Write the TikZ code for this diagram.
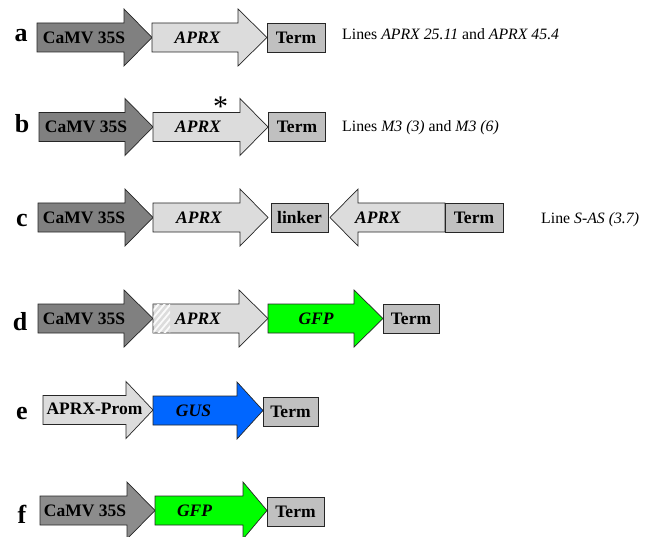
\documentclass[tikz,border=0pt]{standalone}
\usepackage{fontspec}
\setmainfont{Liberation Serif}

\definecolor{camvgray}{RGB}{128,128,128}
\definecolor{camvlight}{RGB}{140,140,140}
\definecolor{genegray}{RGB}{220,220,220}
\definecolor{termgray}{RGB}{192,192,192}
\definecolor{gfpgreen}{RGB}{0,255,0}
\definecolor{gusblue}{RGB}{0,102,255}

% forward gene: fill, start, head base, tip, row
\newcommand{\fwdgene}[5]{%
  \filldraw[gene, fill=#1] (#2,#5-14.5) -- (#3,#5-14.5) -- (#3,#5-28.5) -- (#4,#5)
    -- (#3,#5+28.5) -- (#3,#5+14.5) -- (#2,#5+14.5) -- cycle;}
% reverse gene: fill, tip, head base, end, row
\newcommand{\revgene}[5]{%
  \filldraw[gene, fill=#1] (#2,#5) -- (#3,#5-28.5) -- (#3,#5-14.5) -- (#4,#5-14.5)
    -- (#4,#5+14.5) -- (#3,#5+14.5) -- (#3,#5+28.5) -- cycle;}

\begin{document}
\begin{tikzpicture}[x=1pt, y=-1pt,
    gene/.style = {draw=black!85, line width=0.7pt},
    gtext/.style = {inner sep=0, font=\fontsize{17.5}{18}\selectfont\bfseries},
    gital/.style = {inner sep=0, font=\fontsize{17.5}{18}\selectfont\bfseries\itshape},
    box/.style = {draw=black!85, line width=0.7pt, fill=termgray, inner sep=0,
      minimum height=29, font=\fontsize{17.5}{18}\selectfont\bfseries},
    lbl/.style = {anchor=base, inner sep=0, font=\fontsize{26}{26}\selectfont\bfseries},
    note/.style = {anchor=base west, inner sep=0, font=\fontsize{15.8}{16}\selectfont}]
  \useasboundingbox (0,0) rectangle (652,537);

  % a
  \node[lbl] (a) at (21,42) {a};
  \fwdgene{camvgray}{37}{124}{152}{37.5}
  \fwdgene{genegray}{152}{238}{267}{37.5}
  \node[gtext] (a-camv) at (84,37.5) {CaMV 35S};
  \node[gital] (a-aprx) at (197.5,37.5) {APRX};
  \node[box, minimum width=58] (a-term) at (296,37.5) {Term};
  \node[note] (a-note) at (342,39.5) {Lines \textit{APRX 25.11} and \textit{APRX 45.4}};

  % b
  \node[lbl] (b) at (22,133) {b};
  \fwdgene{camvgray}{39}{125}{153}{127}
  \fwdgene{genegray}{153}{240}{268}{127}
  \node[gtext] (b-camv) at (86,127) {CaMV 35S};
  \node[gital] (b-aprx) at (198,127) {APRX};
  \node[box, minimum width=57] (b-term) at (297,127) {Term};
  \node[anchor=north, inner sep=0, font=\fontsize{30}{30}\selectfont] (b-mut) at (220.5,97) {*};
  \node[note] (b-note) at (342,132) {Lines \textit{M3 (3)} and \textit{M3 (6)}};

  % c
  \node[lbl] (c) at (22,226) {c};
  \fwdgene{camvgray}{38}{125}{153}{217.5}
  \fwdgene{genegray}{153}{240}{268}{217.5}
  \node[box, minimum width=57] (c-link) at (299.5,217.5) {linker};
  \revgene{genegray}{330}{358}{445}{217.5}
  \node[gtext] (c-camv) at (84,217.5) {CaMV 35S};
  \node[gital] (c-aprx) at (199,217.5) {APRX};
  \node[gital] (c-rev) at (378,217.5) {APRX};
  \node[box, minimum width=58] (c-term) at (474,217.5) {Term};
  \node[note] (c-note) at (541,223) {Line \textit{S-AS (3.7)}};

  % d
  \node[lbl] (d) at (20,330) {d};
  \fwdgene{camvgray}{38}{124}{153}{318.5}
  \fwdgene{genegray}{153}{239}{268}{318.5}
  \begin{scope}
    \clip (153.4,304.4) rectangle (170,332.6);
    \foreach \s in {-30,-24,...,30}
      \draw[white!85!genegray, line width=1.8pt] (150+\s,336) -- (180+\s,300);
  \end{scope}
  \fwdgene{gfpgreen}{268}{354}{383}{318.5}
  \node[gtext] (d-camv) at (84,318.5) {CaMV 35S};
  \node[gital] (d-aprx) at (198,318.5) {APRX};
  \node[gital] (d-gfp) at (316,318.5) {GFP};
  \node[box, minimum width=56] (d-term) at (411,318.5) {Term};

  % e
  \node[lbl] (e) at (22,419) {e};
  \fwdgene{genegray}{43}{126}{153}{410}
  \fwdgene{gusblue}{153}{237}{263}{410.5}
  \node[gtext] (e-prom) at (94.5,409) {APRX-Prom};
  \node[gital] (e-gus) at (193.5,411) {GUS};
  \node[box, minimum width=55] (e-term) at (290.5,412) {Term};

  % f
  \node[lbl] (f) at (22,523) {f};
  \fwdgene{camvlight}{40}{127}{155}{510.5}
  \fwdgene{gfpgreen}{155}{243}{267}{510.5}
  \node[gtext] (f-camv) at (85,510.5) {CaMV 35S};
  \node[gital] (f-gfp) at (194.5,510.5) {GFP};
  \node[box, minimum width=57] (f-term) at (295.5,512) {Term};
\end{tikzpicture}
\end{document}
